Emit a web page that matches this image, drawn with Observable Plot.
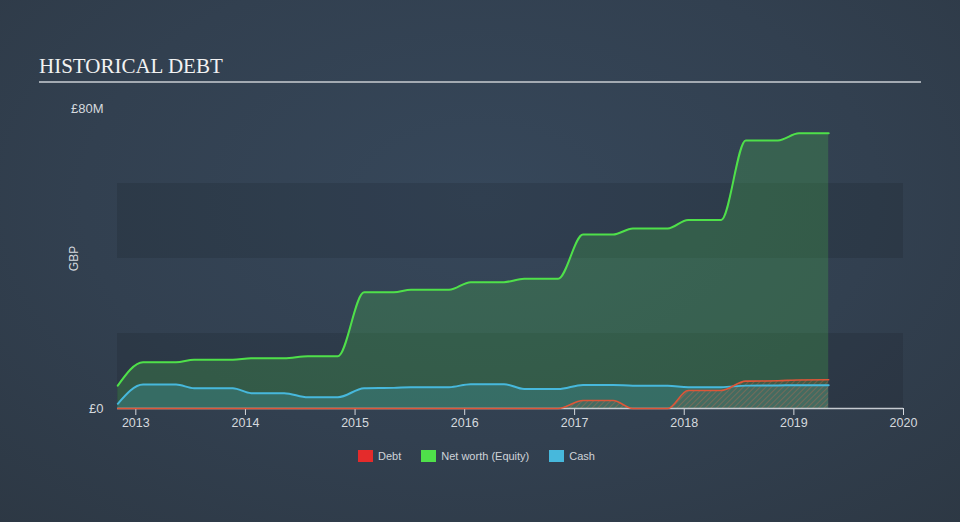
<!DOCTYPE html>
<html>
<head>
<meta charset="utf-8">
<script src="https://cdn.jsdelivr.net/npm/d3@7"></script>
<script src="https://cdn.jsdelivr.net/npm/@observablehq/plot@0.6"></script>
<style>
  html, body { margin: 0; padding: 0; }
  body {
    width: 960px; height: 522px; overflow: hidden;
    background: radial-gradient(ellipse 75% 85% at 50% 38%, #36475a 0%, #324050 55%, #2d3844 100%);
    font-family: "Liberation Sans", Arial, sans-serif;
  }
  #header { position: relative; height: 100px; }
  #title {
    position: absolute; left: 39px; top: 56px;
    font-family: "Liberation Serif", "Times New Roman", serif;
    font-size: 21px; line-height: 1; color: #f2f2f2; white-space: nowrap;
  }
  #rule { position: absolute; left: 39px; top: 81px; width: 882px; height: 2px; background: #a3aab2; }
  #chart { height: 345px; }
  #legend {
    display: flex; align-items: center; gap: 20px;
    margin-left: 358px; margin-top: 5px;
    font-size: 11px; line-height: 12px; color: #cfd3d8;
  }
  .item { display: flex; align-items: center; }
  .sw { display: inline-block; width: 15px; height: 12px; margin-right: 5px; }
</style>
</head>
<body>
<div id="header"><div id="title"></div><div id="rule"></div></div>
<div id="chart"></div>
<div id="legend"></div>
<script>
// ---- data (values in £ millions) ----
const titleText = "HISTORICAL DEBT";
const yAxisLabel = "GBP";
const seriesNames = ["Debt", "Net worth (Equity)", "Cash"];
const seriesColors = ["#e42b2b", "#4fe04a", "#47b8dc"];

const dates = [
  "2012-11-02", "2013-01-25", "2013-05-15", "2013-07-14", "2013-11-20",
  "2014-01-20", "2014-05-10", "2014-07-28", "2014-11-05", "2015-01-31",
  "2015-05-10", "2015-07-06", "2015-11-10", "2016-01-21", "2016-05-11",
  "2016-07-17", "2016-11-07", "2017-01-29", "2017-05-09", "2017-07-14",
  "2017-11-07", "2018-01-14", "2018-05-04", "2018-07-25", "2018-11-09",
  "2019-01-18", "2019-04-27"
];
const netWorth = [
  6.1, 12.35, 12.35, 13.0, 13.0,
  13.4, 13.4, 13.95, 13.95, 31.0,
  31.0, 31.65, 31.65, 33.7, 33.7,
  34.6, 34.6, 46.4, 46.4, 48.0,
  48.0, 50.3, 50.3, 71.5, 71.5,
  73.4, 73.4
];
const cash = [
  1.25, 6.4, 6.4, 5.4, 5.4,
  4.1, 4.1, 3.0, 3.0, 5.4,
  5.5, 5.7, 5.7, 6.5, 6.5,
  5.2, 5.2, 6.3, 6.3, 6.05,
  6.05, 5.7, 5.7, 6.1, 6.15,
  6.2, 6.2
];
const debt = [
  0, 0, 0, 0, 0,
  0, 0, 0, 0, 0,
  0, 0, 0, 0, 0,
  0, 0, 2.13, 2.13, 0,
  0, 4.8, 4.8, 7.3, 7.4,
  7.6, 7.65
];

const xDomain = ["2012-11-01", "2020-01-01"];
const xTickYears = [2013, 2014, 2015, 2016, 2017, 2018, 2019, 2020];
const yDomain = [0, 80];
const yTicks = [0, 80];
const yTickLabels = ["£0", "£80M"];
const bandLo = [0, 40];
const bandHi = [20, 60];

// ---- build tables ----
const rows = (vals) => dates.map((d, i) => ({ date: new Date(d), value: vals[i] }));
const nwRows = rows(netWorth);
const cashRows = rows(cash);
const debtRows = rows(debt);
const xDom = xDomain.map((d) => new Date(d));
const bands = bandLo.map((lo, i) => ({ lo, hi: bandHi[i] }));

document.getElementById("title").textContent = titleText;

const textColor = "#d5d9de";
const chart = Plot.plot({
  width: 960,
  height: 345,
  marginLeft: 117,
  marginRight: 57,
  marginTop: 8,
  marginBottom: 37,
  style: {
    background: "transparent",
    color: textColor,
    fontFamily: "'Liberation Sans', Arial, sans-serif",
    fontSize: "12.5px",
    overflow: "visible"
  },
  x: {
    type: "utc",
    domain: xDom,
    ticks: xTickYears.map((y) => new Date(Date.UTC(y, 0, 1))),
    tickFormat: (d) => String(d.getUTCFullYear()),
    tickSize: 7,
    tickPadding: 3,
    label: null
  },
  y: {
    domain: yDomain,
    ticks: yTicks,
    tickFormat: (d) => yTickLabels[yTicks.indexOf(d)],
    tickSize: 0,
    tickPadding: 14,
    label: null
  },
  marks: [
    Plot.rect(bands, { x1: () => xDom[0], x2: () => xDom[1], y1: "lo", y2: "hi", fill: "#000", fillOpacity: 0.1 }),
    Plot.areaY(nwRows, { x: "date", y: "value", curve: "monotone-x", fill: seriesColors[1], fillOpacity: 0.2 }),
    Plot.areaY(cashRows, { x: "date", y: "value", curve: "monotone-x", fill: seriesColors[2], fillOpacity: 0.2 }),
    Plot.areaY(debtRows, { x: "date", y: "value", curve: "monotone-x", fill: "url(#debtHatch)" }),
    Plot.ruleY([0], { stroke: "#c5cad0", strokeWidth: 1.5 }),
    Plot.lineY(nwRows, { x: "date", y: "value", curve: "monotone-x", stroke: seriesColors[1], strokeWidth: 2 }),
    Plot.lineY(cashRows, { x: "date", y: "value", curve: "monotone-x", stroke: seriesColors[2], strokeWidth: 2 }),
    Plot.lineY(debtRows, { x: "date", y: "value", curve: "monotone-x", stroke: "#de5638", strokeWidth: 1.6 }),
    Plot.text([yAxisLabel], { frameAnchor: "left", textAnchor: "middle", rotate: -90, dx: -43, fill: textColor, fontSize: 12 })
  ]
});

// slightly larger y tick labels
d3.select(chart).selectAll("[aria-label='y-axis tick label'], [aria-label='y-axis'] text").style("font-size", "13px");

// hatch pattern for debt area
const defs = d3.select(chart).insert("defs", ":first-child");
const pat = defs.append("pattern")
  .attr("id", "debtHatch")
  .attr("patternUnits", "userSpaceOnUse")
  .attr("width", 4).attr("height", 4)
  .attr("patternTransform", "rotate(45)");
pat.append("rect").attr("width", 4).attr("height", 4).attr("fill", "#de5638").attr("fill-opacity", 0.08);
pat.append("line").attr("x1", 0).attr("y1", 0).attr("x2", 0).attr("y2", 4)
  .attr("stroke", "#d9694c").attr("stroke-width", 1.2).attr("stroke-opacity", 0.55);

document.getElementById("chart").appendChild(chart);

// legend
const legend = d3.select("#legend");
seriesNames.forEach((name, i) => {
  const item = legend.append("div").attr("class", "item");
  item.append("span").attr("class", "sw").style("background", seriesColors[i]);
  item.append("span").text(name);
});
</script>
</body>
</html>
